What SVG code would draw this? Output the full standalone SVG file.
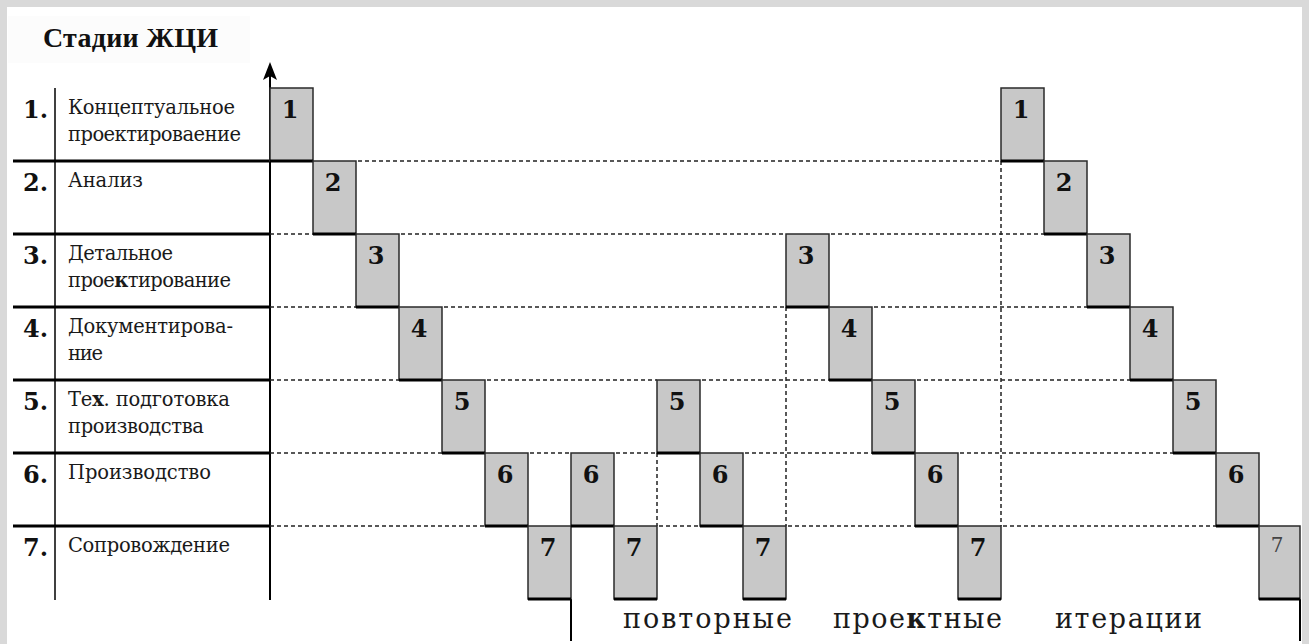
<svg xmlns="http://www.w3.org/2000/svg" width="1309" height="644" viewBox="0 0 1309 644">
<style>
.lbl{font-family:"DejaVu Serif","Liberation Serif",serif;font-size:19.5px;fill:#1a1a1a}
.num{font-family:"DejaVu Serif","Liberation Serif",serif;font-size:24px;font-weight:bold;fill:#111}
.bn{font-family:"DejaVu Serif","Liberation Serif",serif;font-size:24px;font-weight:bold;fill:#111;text-anchor:middle}
.title{font-family:"Liberation Serif","DejaVu Serif",serif;font-size:28px;font-weight:bold;fill:#111}
.iter{font-family:"DejaVu Serif","Liberation Serif",serif;font-size:27px;fill:#1a1a1a}
.box{fill:#c8c8c8;stroke:#2a2a2a;stroke-width:1.5}
.bot{stroke:#000;stroke-width:3}
.row{stroke:#000;stroke-width:3}
.dash{stroke:#222;stroke-width:1.5;stroke-dasharray:4 3;fill:none}
.solid{stroke:#000;stroke-width:2;fill:none}
</style>
<rect x="0" y="0" width="1309" height="644" fill="#d9d9d9"/>
<rect x="7" y="7" width="1295" height="637" fill="#ffffff"/>
<rect x="8" y="16" width="242" height="47" fill="#fcfcfc"/>
<g id="title"><text class="title" x="43" y="47" textLength="175">Стадии ЖЦИ</text></g>

<g id="connectors">
<line class="solid" x1="270" y1="600" x2="270" y2="74"/>
<path d="M270,62 L277,80 L270,76 L263,80 Z" fill="#000"/>
<line x1="55" y1="88" x2="55" y2="600" stroke="#000" stroke-width="1.5"/>
<line class="row" x1="13" y1="161" x2="270" y2="161"/>
<line class="row" x1="13" y1="234" x2="270" y2="234"/>
<line class="row" x1="13" y1="307" x2="270" y2="307"/>
<line class="row" x1="13" y1="380" x2="270" y2="380"/>
<line class="row" x1="13" y1="453" x2="270" y2="453"/>
<line class="row" x1="13" y1="526" x2="270" y2="526"/>
<path class="dash" d="M358,161H1001 M270,234H313 M401,234H786 M831,234H1044 M270,307H356 M444,307H786 M874,307H1087 M270,380H399 M487,380H657 M702,380H829 M917,380H1130 M270,453H442 M530,453H571 M616,453H657 M745,453H872 M960,453H1173 M270,526H485 M659,526H700 M788,526H915 M1003,526H1216"/>
<path class="dash" d="M657,453V526 M786,307V526 M1001,161V526"/>
<line class="solid" x1="571" y1="599" x2="571" y2="641"/>
<line class="solid" x1="1300" y1="599" x2="1300" y2="641"/>
</g>

<g id="stage-1"><text class="num" x="23" y="118">1.</text><text class="lbl" x="68" y="114" textLength="167">Концептуальное</text><text class="lbl" x="68" y="141" textLength="173">проектироваение</text></g>
<g id="stage-2"><text class="num" x="23" y="191">2.</text><text class="lbl" x="68" y="187" textLength="75">Анализ</text></g>
<g id="stage-3"><text class="num" x="23" y="264">3.</text><text class="lbl" x="68" y="260" textLength="105">Детальное</text><text class="lbl" x="68" y="287" textLength="163">прое<tspan font-weight="bold">к</tspan>тирование</text></g>
<g id="stage-4"><text class="num" x="23" y="337">4.</text><text class="lbl" x="68" y="333" textLength="165">Документирова-</text><text class="lbl" x="68" y="360" textLength="35">ние</text></g>
<g id="stage-5"><text class="num" x="23" y="410">5.</text><text class="lbl" x="68" y="406" textLength="162">Те<tspan font-weight="bold">х</tspan>. подготовка</text><text class="lbl" x="68" y="433" textLength="136">производства</text></g>
<g id="stage-6"><text class="num" x="23" y="483">6.</text><text class="lbl" x="68" y="479" textLength="143">Производство</text></g>
<g id="stage-7"><text class="num" x="23" y="556">7.</text><text class="lbl" x="68" y="552" textLength="162">Сопровождение</text></g>

<g id="box-A1"><rect class="box" x="270" y="88" width="43" height="73"/><line class="bot" x1="270" y1="161" x2="313" y2="161"/><text class="bn" x="290" y="118">1</text></g>
<g id="box-A2"><rect class="box" x="313" y="161" width="43" height="73"/><line class="bot" x1="313" y1="234" x2="356" y2="234"/><text class="bn" x="333" y="191">2</text></g>
<g id="box-A3"><rect class="box" x="356" y="234" width="43" height="73"/><line class="bot" x1="356" y1="307" x2="399" y2="307"/><text class="bn" x="376" y="264">3</text></g>
<g id="box-A4"><rect class="box" x="399" y="307" width="43" height="73"/><line class="bot" x1="399" y1="380" x2="442" y2="380"/><text class="bn" x="419" y="337">4</text></g>
<g id="box-A5"><rect class="box" x="442" y="380" width="43" height="73"/><line class="bot" x1="442" y1="453" x2="485" y2="453"/><text class="bn" x="462" y="410">5</text></g>
<g id="box-A6"><rect class="box" x="485" y="453" width="43" height="73"/><line class="bot" x1="485" y1="526" x2="528" y2="526"/><text class="bn" x="505" y="483">6</text></g>
<g id="box-A7"><rect class="box" x="528" y="526" width="43" height="73"/><line class="bot" x1="528" y1="599" x2="571" y2="599"/><text class="bn" x="548" y="556">7</text></g>

<g id="box-B6"><rect class="box" x="571" y="453" width="43" height="73"/><line class="bot" x1="571" y1="526" x2="614" y2="526"/><text class="bn" x="591" y="483">6</text></g>
<g id="box-B7"><rect class="box" x="614" y="526" width="43" height="73"/><line class="bot" x1="614" y1="599" x2="657" y2="599"/><text class="bn" x="634" y="556">7</text></g>

<g id="box-C5"><rect class="box" x="657" y="380" width="43" height="73"/><line class="bot" x1="657" y1="453" x2="700" y2="453"/><text class="bn" x="677" y="410">5</text></g>
<g id="box-C6"><rect class="box" x="700" y="453" width="43" height="73"/><line class="bot" x1="700" y1="526" x2="743" y2="526"/><text class="bn" x="720" y="483">6</text></g>
<g id="box-C7"><rect class="box" x="743" y="526" width="43" height="73"/><line class="bot" x1="743" y1="599" x2="786" y2="599"/><text class="bn" x="763" y="556">7</text></g>

<g id="box-D3"><rect class="box" x="786" y="234" width="43" height="73"/><line class="bot" x1="786" y1="307" x2="829" y2="307"/><text class="bn" x="806" y="264">3</text></g>
<g id="box-D4"><rect class="box" x="829" y="307" width="43" height="73"/><line class="bot" x1="829" y1="380" x2="872" y2="380"/><text class="bn" x="849" y="337">4</text></g>
<g id="box-D5"><rect class="box" x="872" y="380" width="43" height="73"/><line class="bot" x1="872" y1="453" x2="915" y2="453"/><text class="bn" x="892" y="410">5</text></g>
<g id="box-D6"><rect class="box" x="915" y="453" width="43" height="73"/><line class="bot" x1="915" y1="526" x2="958" y2="526"/><text class="bn" x="935" y="483">6</text></g>
<g id="box-D7"><rect class="box" x="958" y="526" width="43" height="73"/><line class="bot" x1="958" y1="599" x2="1001" y2="599"/><text class="bn" x="978" y="556">7</text></g>

<g id="box-E1"><rect class="box" x="1001" y="88" width="43" height="73"/><line class="bot" x1="1001" y1="161" x2="1044" y2="161"/><text class="bn" x="1021" y="118">1</text></g>
<g id="box-E2"><rect class="box" x="1044" y="161" width="43" height="73"/><line class="bot" x1="1044" y1="234" x2="1087" y2="234"/><text class="bn" x="1064" y="191">2</text></g>
<g id="box-E3"><rect class="box" x="1087" y="234" width="43" height="73"/><line class="bot" x1="1087" y1="307" x2="1130" y2="307"/><text class="bn" x="1107" y="264">3</text></g>
<g id="box-E4"><rect class="box" x="1130" y="307" width="43" height="73"/><line class="bot" x1="1130" y1="380" x2="1173" y2="380"/><text class="bn" x="1150" y="337">4</text></g>
<g id="box-E5"><rect class="box" x="1173" y="380" width="43" height="73"/><line class="bot" x1="1173" y1="453" x2="1216" y2="453"/><text class="bn" x="1193" y="410">5</text></g>
<g id="box-E6"><rect class="box" x="1216" y="453" width="43" height="73"/><line class="bot" x1="1216" y1="526" x2="1259" y2="526"/><text class="bn" x="1236" y="483">6</text></g>
<g id="box-E7"><rect class="box" x="1259" y="526" width="41" height="73"/><line class="bot" x1="1259" y1="599" x2="1300" y2="599"/><text x="1277" y="552" font-family="DejaVu Serif, Liberation Serif, serif" font-size="20" fill="#444" text-anchor="middle">7</text></g>

<g id="iterations-label">
<text class="iter" x="623" y="628" textLength="169">повторные</text>
<text class="iter" x="833" y="628" textLength="169">прое<tspan font-weight="bold">к</tspan>тные</text>
<text class="iter" x="1055" y="628" textLength="147">итерации</text>
</g>
</svg>
